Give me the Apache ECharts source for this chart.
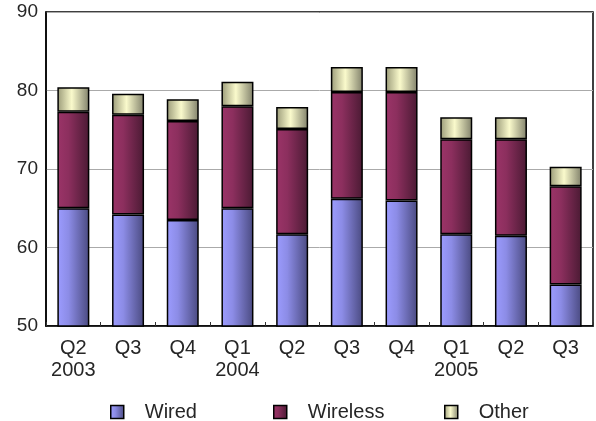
<!DOCTYPE html>
<html>
<head>
<meta charset="utf-8">
<script src="https://cdn.jsdelivr.net/npm/echarts@6/dist/echarts.min.js"></script>
<style>html,body{margin:0;padding:0;background:#fff}#c{width:596px;height:421px}</style>
</head>
<body>
<div id="c"></div>
<script>
var categories = ['Q2\n2003','Q3','Q4','Q1\n2004','Q2','Q3','Q4','Q1\n2005','Q2','Q3'];
var wired    = [65.0, 64.2, 63.5, 65.0, 61.7, 66.2, 66.0, 61.7, 61.5, 55.3];
var wireless = [12.3, 12.7, 12.6, 13.0, 13.4, 13.6, 13.8, 12.1, 12.3, 12.5];
var other    = [3.1, 2.7, 2.8, 3.1, 2.8, 3.2, 3.2, 2.8, 2.8, 2.5];
var yTicks = [50, 60, 70, 80, 90];

var G = echarts.graphic.LinearGradient;
function grad(stops){ return new G(0,0,1,0, stops.map(function(s){return {offset:s[0], color:s[1]};})); }
var cWired = grad([[0,'#9c9cff'],[0.35,'#8c8ce6'],[1,'#4a4a80']]);
var cWireless = grad([[0,'#9b3468'],[0.35,'#8c2f5e'],[1,'#4a1a33']]);
var cOther = grad([[0,'#9a9a78'],[0.45,'#fafacc'],[1,'#80806a']]);

var font = 'Liberation Sans, Arial, sans-serif';
var chart = echarts.init(document.getElementById('c'));
function mkSeries(name, data, color){
  return { name:name, type:'bar', stack:'a', data:data, barWidth:32,
    itemStyle:{ color:color, borderColor:'#000', borderWidth:1.5 } };
}
function mkLegend(name, left){
  return { data:[name], left:left, top:402, itemWidth:13, itemHeight:13, itemGap:0,
    icon:'rect', textStyle:{ fontFamily:font, fontSize:20, color:'#262626', padding:[0,0,0,16] },
    itemStyle:{ borderColor:'#000', borderWidth:1.5 }, padding:0, selectedMode:false };
}
chart.setOption({
  animation:false,
  grid:{ left:46, right:3, top:12, bottom:95, show:true, borderColor:'#000', borderWidth:1.5 },
  legend:[ mkLegend('Wired',110), mkLegend('Wireless',273), mkLegend('Other',444) ],
  xAxis:{ type:'category', data:categories, boundaryGap:true,
    axisLine:{ lineStyle:{ color:'#000', width:1.5 } },
    axisTick:{ show:true, inside:true, length:4, lineStyle:{ color:'#333', width:1 }, alignWithLabel:false },
    axisLabel:{ fontFamily:font, fontSize:20, color:'#262626', margin:11, lineHeight:22, interval:0 } },
  yAxis:{ type:'value', min:yTicks[0], max:yTicks[yTicks.length-1], interval:10,
    axisLine:{ show:true, lineStyle:{ color:'#000', width:1.5 } }, axisTick:{ show:false },
    splitLine:{ lineStyle:{ color:'#aaaaaa', width:1 } },
    axisLabel:{ fontFamily:font, fontSize:19, color:'#262626', margin:8 } },
  series:[ mkSeries('Wired', wired, cWired), mkSeries('Wireless', wireless, cWireless), mkSeries('Other', other, cOther) ]
});
</script>
</body>
</html>
